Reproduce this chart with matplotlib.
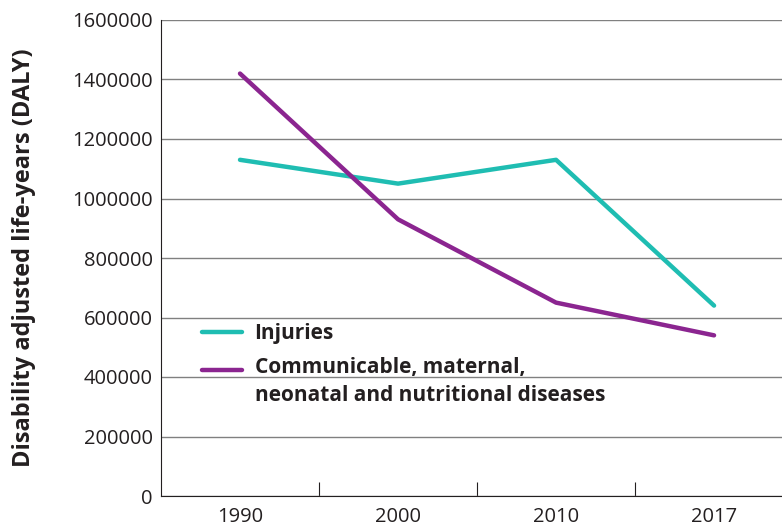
import matplotlib
matplotlib.use("Agg")
import matplotlib.pyplot as plt
from matplotlib.legend_handler import HandlerLine2D
import numpy as np

# data
years = ["1990", "2000", "2010", "2017"]
injuries = [1130000, 1050000, 1130000, 640000]
communicable = [1420000, 930000, 650000, 540000]

teal = "#1fbdb2"
purple = "#8b2590"
text_col = "#231f20"

plt.rcParams['font.family'] = ['Open Sans', 'DejaVu Sans']


class RaisedLine(HandlerLine2D):
    # legend line sitting next to the first line of a two-line label
    def create_artists(self, *args, **kwargs):
        arts = super().create_artists(*args, **kwargs)
        for a in arts:
            a.set_ydata(np.asarray(a.get_ydata()) + 8.5)
        return arts


fig = plt.figure(figsize=(7.82, 5.26), dpi=100)
ax = fig.add_axes([161 / 782, 30 / 526, 1 - 161 / 782, 476 / 526])

x = np.arange(len(years))
ax.plot(x, injuries, color=teal, lw=3.2, solid_capstyle='round', solid_joinstyle='round',
        label="Injuries")
l2, = ax.plot(x, communicable, color=purple, lw=3.2, solid_capstyle='round', solid_joinstyle='round',
              label="Communicable, maternal,\nneonatal and nutritional diseases")

ax.set_xlim(-0.5, 3.43)
ax.set_ylim(0, 1600000)
ax.set_yticks(np.arange(0, 1600001, 200000))
ax.set_yticklabels([str(v) for v in range(0, 1600001, 200000)])
ax.grid(axis='y', color='#808080', lw=1)
ax.set_axisbelow(True)

# category labels centered, tick marks in between
ax.set_xticks(x)
ax.set_xticklabels(years)
ax.tick_params(axis='x', length=0, pad=8, labelsize=14.5, colors=text_col)
ax.set_xticks([0.5, 1.5, 2.5], minor=True)
ax.tick_params(axis='x', which='minor', direction='in', length=10, width=0.8, color=text_col)
ax.tick_params(axis='y', length=0, pad=6, labelsize=14.5, colors=text_col)

for s in ['top', 'right']:
    ax.spines[s].set_visible(False)
ax.spines['left'].set_color(text_col)
ax.spines['bottom'].set_color(text_col)

ax.set_ylabel("Disability adjusted life-years (DALY)", fontsize=17, fontweight='bold',
              color=text_col)
ax.yaxis.set_label_coords(-0.201, 0.5)

leg = ax.legend(loc='upper left', bbox_to_anchor=(0.05, 0.385), frameon=False,
                prop={'size': 15, 'weight': 'bold'}, handlelength=1.9, handletextpad=0.6,
                labelspacing=0.6, borderpad=0, handler_map={l2: RaisedLine()})
for t in leg.get_texts():
    t.set_color(text_col)
    t.set_linespacing(1.45)

fig.savefig("out.png", dpi=100)
